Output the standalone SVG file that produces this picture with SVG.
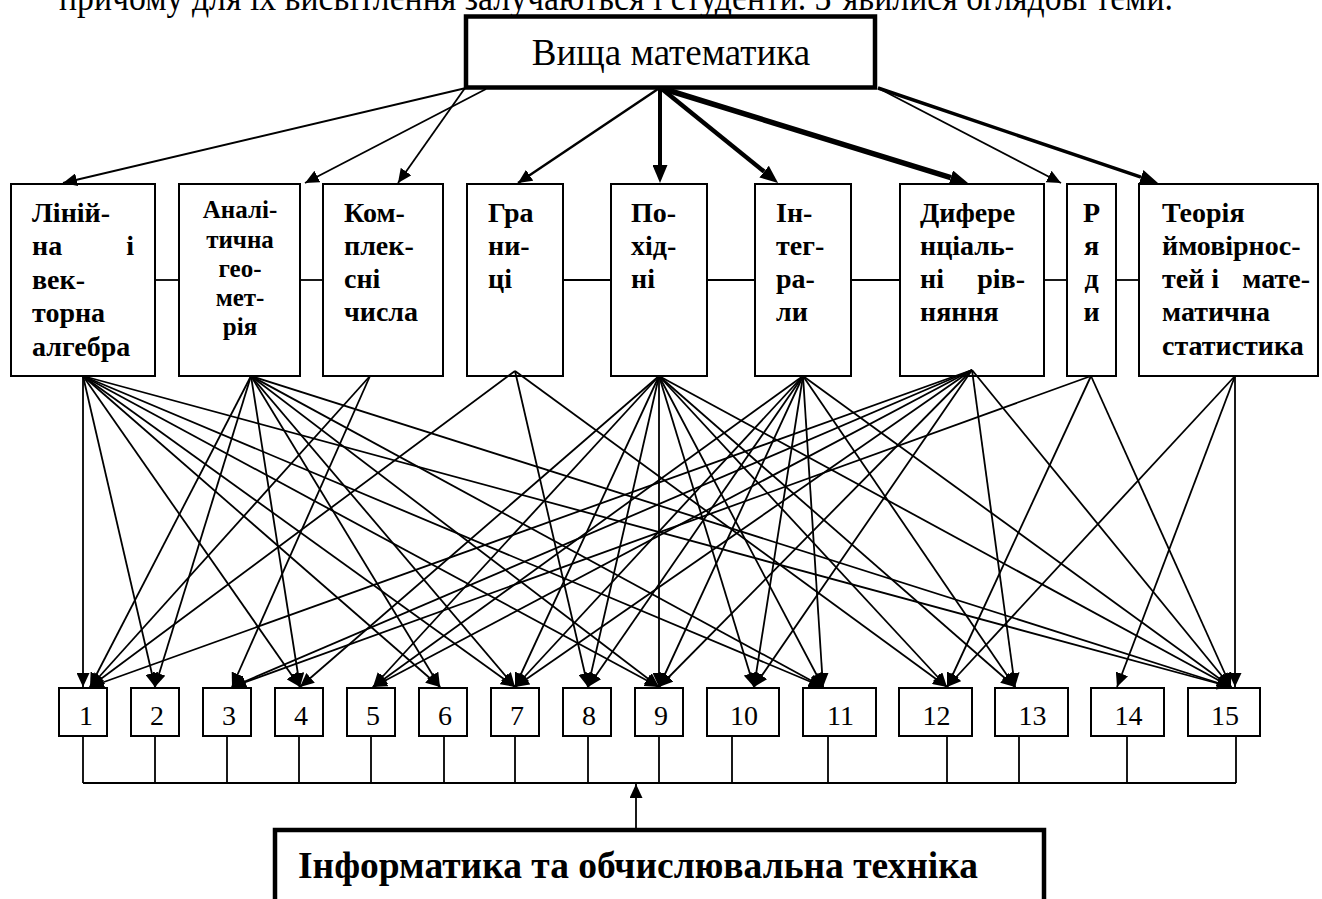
<svg xmlns="http://www.w3.org/2000/svg" width="1322" height="899" viewBox="0 0 1322 899">
<defs>
<style>
.box{fill:#fff;stroke:#000;stroke-width:2}
.tb{fill:#fff;stroke:#000;stroke-width:4.5}
.ln{stroke:#000;stroke-width:1.8;fill:none}
.lb{font-family:"Liberation Serif","Times New Roman",serif;font-weight:bold;font-size:28px}
.lb2{font-family:"Liberation Serif","Times New Roman",serif;font-weight:bold;font-size:25px;text-anchor:middle}
.num{font-family:"Liberation Serif","Times New Roman",serif;font-size:28px;text-anchor:middle}
.tt{font-family:"Liberation Serif","Times New Roman",serif;font-size:37px}
</style>
<marker id="ah" markerUnits="userSpaceOnUse" markerWidth="14" markerHeight="13" refX="14" refY="6.5" orient="auto"><path d="M0,0 L14,6.5 L0,13 z" fill="#000"/></marker>
<marker id="big" markerUnits="userSpaceOnUse" markerWidth="18" markerHeight="15" refX="0" refY="7.5" orient="auto"><path d="M0,0 L18,7.5 L0,15 z" fill="#000"/></marker>
</defs>
<rect width="1322" height="899" fill="#fff"/>
<text class="tt" x="59" y="10" textLength="1114" lengthAdjust="spacingAndGlyphs">причому для їх висвітлення залучаються і студенти. З’явилися оглядові теми.</text>

<g id="top">
<rect class="tb" x="466" y="16.5" width="409" height="71"/>
<text class="tt" x="671" y="65" text-anchor="middle">Вища математика</text>
</g>

<g id="m1"><rect class="box" x="11" y="184" width="144" height="192"/>
<text class="lb" x="32" y="222">Ліній-</text>
<text class="lb" y="255"><tspan x="32">на</tspan><tspan x="134" text-anchor="end">і</tspan></text>
<text class="lb" x="32" y="289">век-</text>
<text class="lb" x="32" y="322">торна</text>
<text class="lb" x="32" y="356">алгебра</text></g>

<g id="m2"><rect class="box" x="179" y="184" width="121" height="192"/>
<text class="lb2" x="240" y="218">Аналі-</text>
<text class="lb2" x="240" y="248">тична</text>
<text class="lb2" x="240" y="277">гео-</text>
<text class="lb2" x="240" y="306">мет-</text>
<text class="lb2" x="240" y="335">рія</text></g>

<g id="m3"><rect class="box" x="323" y="184" width="120" height="192"/>
<text class="lb" x="344" y="222">Ком-</text>
<text class="lb" x="344" y="255">плек-</text>
<text class="lb" x="344" y="288">сні</text>
<text class="lb" x="344" y="321">числа</text></g>

<g id="m4"><rect class="box" x="467" y="184" width="96" height="192"/>
<text class="lb" x="488" y="222">Гра</text>
<text class="lb" x="488" y="255">ни-</text>
<text class="lb" x="488" y="288">ці</text></g>

<g id="m5"><rect class="box" x="611" y="184" width="96" height="192"/>
<text class="lb" x="631" y="222">По-</text>
<text class="lb" x="631" y="255">хід-</text>
<text class="lb" x="631" y="288">ні</text></g>

<g id="m6"><rect class="box" x="755" y="184" width="96" height="192"/>
<text class="lb" x="776" y="222">Ін-</text>
<text class="lb" x="776" y="255">тег-</text>
<text class="lb" x="776" y="288">ра-</text>
<text class="lb" x="776" y="321">ли</text></g>

<g id="m7"><rect class="box" x="900" y="184" width="144" height="192"/>
<text class="lb" x="920" y="222">Дифере</text>
<text class="lb" x="920" y="255">нціаль-</text>
<text class="lb" y="288"><tspan x="920">ні</tspan><tspan x="1025" text-anchor="end">рів-</tspan></text>
<text class="lb" x="920" y="321">няння</text></g>

<g id="m8"><rect class="box" x="1067" y="184" width="49" height="192"/>
<text class="lb" x="1091.5" y="222" text-anchor="middle">Р</text>
<text class="lb" x="1091.5" y="255" text-anchor="middle">я</text>
<text class="lb" x="1091.5" y="288" text-anchor="middle">д</text>
<text class="lb" x="1091.5" y="321" text-anchor="middle">и</text></g>

<g id="m9"><rect class="box" x="1139" y="184" width="179" height="192"/>
<text class="lb" x="1162" y="222">Теорія</text>
<text class="lb" x="1162" y="255">ймовірнос-</text>
<text class="lb" y="288"><tspan x="1162">тей і</tspan><tspan x="1310" text-anchor="end">мате-</tspan></text>
<text class="lb" x="1162" y="321">матична</text>
<text class="lb" x="1162" y="355">статистика</text></g>

<g id="n1"><rect class="box" x="59" y="688" width="48" height="48"/><text class="num" x="86" y="725">1</text></g>
<g id="n2"><rect class="box" x="131" y="688" width="48" height="48"/><text class="num" x="157" y="725">2</text></g>
<g id="n3"><rect class="box" x="203" y="688" width="48" height="48"/><text class="num" x="229" y="725">3</text></g>
<g id="n4"><rect class="box" x="275" y="688" width="48" height="48"/><text class="num" x="301" y="725">4</text></g>
<g id="n5"><rect class="box" x="347" y="688" width="48" height="48"/><text class="num" x="373" y="725">5</text></g>
<g id="n6"><rect class="box" x="419" y="688" width="48" height="48"/><text class="num" x="445" y="725">6</text></g>
<g id="n7"><rect class="box" x="491" y="688" width="48" height="48"/><text class="num" x="517" y="725">7</text></g>
<g id="n8"><rect class="box" x="563" y="688" width="48" height="48"/><text class="num" x="589" y="725">8</text></g>
<g id="n9"><rect class="box" x="635" y="688" width="48" height="48"/><text class="num" x="661" y="725">9</text></g>
<g id="n10"><rect class="box" x="707" y="688" width="72" height="48"/><text class="num" x="744" y="725">10</text></g>
<g id="n11"><rect class="box" x="803" y="688" width="73" height="48"/><text class="num" x="840.5" y="725">11</text></g>
<g id="n12"><rect class="box" x="899" y="688" width="73" height="48"/><text class="num" x="936.5" y="725">12</text></g>
<g id="n13"><rect class="box" x="995" y="688" width="73" height="48"/><text class="num" x="1032.5" y="725">13</text></g>
<g id="n14"><rect class="box" x="1091" y="688" width="73" height="48"/><text class="num" x="1128.5" y="725">14</text></g>
<g id="n15"><rect class="box" x="1188" y="688" width="72" height="48"/><text class="num" x="1225" y="725">15</text></g>

<g id="info">
<rect class="tb" x="275" y="830" width="769" height="100"/>
<text class="lb" x="298" y="878" style="font-size:38px" textLength="680" lengthAdjust="spacingAndGlyphs">Інформатика та обчислювальна техніка</text>
</g>

<g id="connectors">
<g class="ln" marker-end="url(#ah)">
<line x1="466" y1="88" x2="63" y2="183"/>
<line x1="486" y1="89" x2="305" y2="183"/>
<line x1="465" y1="88" x2="398" y2="183"/>
<line x1="658" y1="89" x2="518" y2="183" style="stroke-width:2.5"/>
<line x1="878" y1="88" x2="1061" y2="183"/>
</g>
<g class="ln" marker-end="url(#big)">
<line x1="660" y1="89" x2="660" y2="165" style="stroke-width:4"/>
<line x1="662" y1="89" x2="764.1" y2="171.6" style="stroke-width:4.5"/>
<line x1="664" y1="89" x2="950.8" y2="177.6" style="stroke-width:5.5"/>
<line x1="878" y1="88" x2="1141" y2="177.2" style="stroke-width:3.5"/>
</g>
<g class="ln">
<line x1="155" y1="280" x2="179" y2="280"/>
<line x1="300" y1="280" x2="323" y2="280"/>
<line x1="563" y1="280" x2="611" y2="280"/>
<line x1="707" y1="280" x2="755" y2="280"/>
<line x1="851" y1="280" x2="900" y2="280"/>
<line x1="1044" y1="280" x2="1067" y2="280"/>
<line x1="1116" y1="280" x2="1139" y2="280"/>
</g>
<g class="ln" marker-end="url(#ah)">
<line x1="83" y1="376" x2="83" y2="687"/>
<line x1="83" y1="376" x2="155" y2="687"/>
<line x1="83" y1="376" x2="300" y2="687"/>
<line x1="83" y1="376" x2="440" y2="687"/>
<line x1="83" y1="376" x2="515" y2="687"/>
<line x1="83" y1="376" x2="659" y2="687"/>
<line x1="83" y1="376" x2="823" y2="687"/>
<line x1="83" y1="376" x2="1231" y2="687"/>

<line x1="251" y1="376" x2="90" y2="687"/>
<line x1="251" y1="376" x2="155" y2="687"/>
<line x1="251" y1="376" x2="300" y2="687"/>
<line x1="251" y1="376" x2="440" y2="687"/>
<line x1="251" y1="376" x2="515" y2="687"/>
<line x1="251" y1="376" x2="659" y2="687"/>
<line x1="251" y1="376" x2="823" y2="687"/>
<line x1="251" y1="376" x2="1231" y2="687"/>

<line x1="370" y1="376" x2="90" y2="687"/>
<line x1="370" y1="376" x2="232" y2="687"/>

<line x1="515" y1="371" x2="90" y2="687"/>
<line x1="515" y1="371" x2="588" y2="687"/>
<line x1="515" y1="371" x2="947" y2="687"/>

<line x1="659" y1="376" x2="300" y2="687"/>
<line x1="659" y1="376" x2="373" y2="687"/>
<line x1="659" y1="376" x2="515" y2="687"/>
<line x1="659" y1="376" x2="588" y2="687"/>
<line x1="659" y1="376" x2="659" y2="687"/>
<line x1="659" y1="376" x2="754" y2="687"/>
<line x1="659" y1="376" x2="823" y2="687"/>
<line x1="659" y1="376" x2="947" y2="687"/>
<line x1="659" y1="376" x2="1015" y2="687"/>
<line x1="659" y1="376" x2="1231" y2="687"/>

<line x1="803" y1="376" x2="373" y2="687"/>
<line x1="803" y1="376" x2="515" y2="687"/>
<line x1="803" y1="376" x2="588" y2="687"/>
<line x1="803" y1="376" x2="659" y2="687"/>
<line x1="803" y1="376" x2="754" y2="687"/>
<line x1="803" y1="376" x2="823" y2="687"/>
<line x1="803" y1="376" x2="1015" y2="687"/>
<line x1="803" y1="376" x2="1231" y2="687"/>

<line x1="972" y1="370" x2="90" y2="687"/>
<line x1="972" y1="370" x2="232" y2="687"/>
<line x1="972" y1="370" x2="373" y2="687"/>
<line x1="972" y1="370" x2="515" y2="687"/>
<line x1="972" y1="370" x2="659" y2="687"/>
<line x1="972" y1="370" x2="754" y2="687"/>
<line x1="972" y1="370" x2="1015" y2="687"/>
<line x1="972" y1="370" x2="1231" y2="687"/>

<line x1="1091" y1="376" x2="232" y2="687"/>
<line x1="1091" y1="376" x2="947" y2="687"/>
<line x1="1091" y1="376" x2="1231" y2="687"/>

<line x1="1235" y1="376" x2="947" y2="687"/>
<line x1="1235" y1="376" x2="1117" y2="687"/>
<line x1="1235" y1="376" x2="1235" y2="687"/>
</g>
<g class="ln">
<line x1="83" y1="783" x2="1236" y2="783"/>
<line x1="83" y1="736" x2="83" y2="783"/>
<line x1="155" y1="736" x2="155" y2="783"/>
<line x1="227" y1="736" x2="227" y2="783"/>
<line x1="299" y1="736" x2="299" y2="783"/>
<line x1="371" y1="736" x2="371" y2="783"/>
<line x1="444" y1="736" x2="444" y2="783"/>
<line x1="515" y1="736" x2="515" y2="783"/>
<line x1="588" y1="736" x2="588" y2="783"/>
<line x1="659" y1="736" x2="659" y2="783"/>
<line x1="732" y1="736" x2="732" y2="783"/>
<line x1="828" y1="736" x2="828" y2="783"/>
<line x1="947" y1="736" x2="947" y2="783"/>
<line x1="1019" y1="736" x2="1019" y2="783"/>
<line x1="1127" y1="736" x2="1127" y2="783"/>
<line x1="1236" y1="736" x2="1236" y2="783"/>
</g>
<line class="ln" x1="636" y1="830" x2="636" y2="784" marker-end="url(#ah)"/>
</g>
</svg>
